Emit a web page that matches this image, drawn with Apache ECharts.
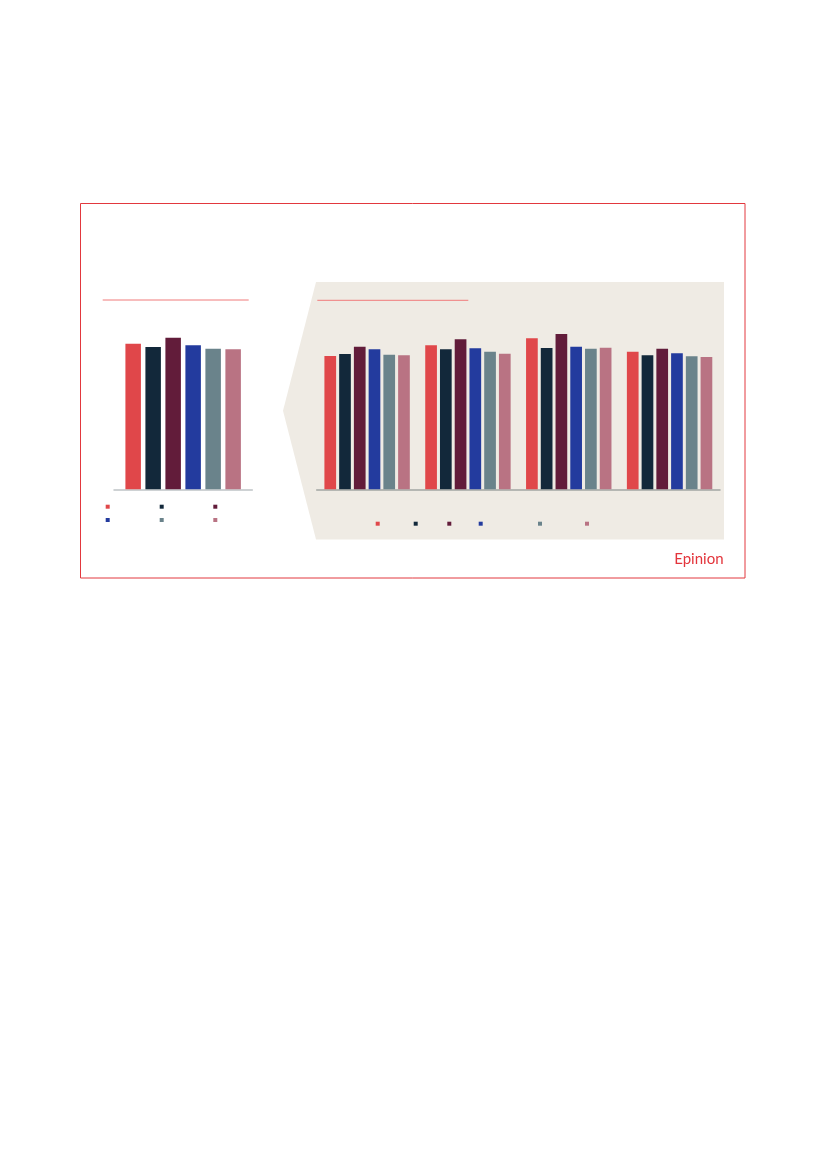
<!DOCTYPE html>
<html>
<head>
<meta charset="utf-8">
<script src="https://cdn.jsdelivr.net/npm/echarts@6/dist/echarts.min.js"></script>
<style>
html,body{margin:0;padding:0;background:#fff;}
#main{width:827px;height:1169px;}
</style>
</head>
<body>
<div id="main"></div>
<script>
// ---- data ----
const seriesNames = ['Serie 1', 'Serie 2', 'Serie 3', 'Serie 4', 'Serie 5', 'Serie 6'];
const seriesColors = ['#E0474A', '#12283A', '#621C3A', '#233B9E', '#6A838B', '#B97383'];
const leftCategories = ['Total'];
const leftValues = [72.8, 71.2, 75.8, 72.0, 70.3, 70.0];
const rightCategories = ['Gruppe 1', 'Gruppe 2', 'Gruppe 3', 'Gruppe 4'];
const serie1 = [66.7, 72.0, 75.5, 68.8];
const serie2 = [67.7, 70.0, 70.7, 67.0];
const serie3 = [71.3, 75.0, 77.7, 70.3];
const serie4 = [70.0, 70.5, 71.3, 68.0];
const serie5 = [67.3, 68.8, 70.3, 66.5];
const serie6 = [67.0, 67.8, 70.8, 66.2];
const rightValues = [serie1, serie2, serie3, serie4, serie5, serie6];
const yMax = 100;

const chart = echarts.init(document.getElementById('main'), null, {renderer: 'canvas'});

const series = [];
seriesNames.forEach((n, i) => {
  series.push({
    name: n, type: 'bar', xAxisIndex: 0, yAxisIndex: 0,
    data: [leftValues[i]], barWidth: 15.5, barGap: '29%',
    itemStyle: {color: seriesColors[i]}, z: 3
  });
});
seriesNames.forEach((n, i) => {
  series.push({
    name: n, type: 'bar', xAxisIndex: 1, yAxisIndex: 1,
    data: rightValues[i], barWidth: 11.7, barGap: '26%',
    itemStyle: {color: seriesColors[i]}, z: 3
  });
});

// legend marker positions (centers)
const leftLegendPos = [[107.7,506.7],[161.7,506.7],[215.3,506.7],[107.7,520],[161.7,520],[215.3,520]];
const rightLegendPos = [[377.7,523.7],[415.7,523.7],[449.3,523.7],[480.7,523.7],[540,523.7],[587,523.7]];
const legends = [];
[leftLegendPos, rightLegendPos].forEach(pos => {
  pos.forEach((p, i) => {
    legends.push({
      data: [seriesNames[i]], left: p[0] - 2, top: p[1] - 2,
      padding: 0, itemWidth: 4, itemHeight: 4, icon: 'rect',
      selectedMode: false, formatter: () => '',
      textStyle: {fontSize: 1, padding: 0}
    });
  });
});

const axisBase = (color) => ({
  axisLine: {show: true, lineStyle: {color: color, width: 1.5}},
  axisTick: {show: false}, axisLabel: {show: false}, splitLine: {show: false}
});

chart.setOption({
  animation: false,
  legend: legends,
  grid: [
    {left: 114, top: 289.3, width: 138.3, height: 200},
    {left: 316.7, top: 289.3, width: 403.3, height: 200}
  ],
  xAxis: [
    Object.assign({type: 'category', data: leftCategories, gridIndex: 0}, axisBase('#BEC3C6')),
    Object.assign({type: 'category', data: rightCategories, gridIndex: 1}, axisBase('#A3A6A3'))
  ],
  yAxis: [
    {type: 'value', gridIndex: 0, min: 0, max: yMax, show: false},
    {type: 'value', gridIndex: 1, min: 0, max: yMax, show: false}
  ],
  graphic: [
    {type: 'rect', z: 0, shape: {x: 80.5, y: 203.5, width: 664.5, height: 374.5},
     style: {fill: 'none', stroke: '#E2383E', lineWidth: 1}},
    {type: 'polygon', z: 0, shape: {points: [[316,282],[724,282],[724,539.5],[316,539.5],[283,410.7]]},
     style: {fill: '#EFEBE4'}},
    {type: 'line', z: 1, shape: {x1: 102.7, y1: 300, x2: 248.7, y2: 300},
     style: {stroke: '#F07B7B', lineWidth: 1}},
    {type: 'line', z: 1, shape: {x1: 317.3, y1: 300.3, x2: 468.3, y2: 300.3},
     style: {stroke: '#F07B7B', lineWidth: 1}},
    {type: 'text', z: 1, style: {text: 'Epinion', x: 723.5, y: 559, align: 'right', verticalAlign: 'middle',
      font: '15px Lato', fill: '#E3343B'}}
  ],
  series: series
});
</script>
</body>
</html>
